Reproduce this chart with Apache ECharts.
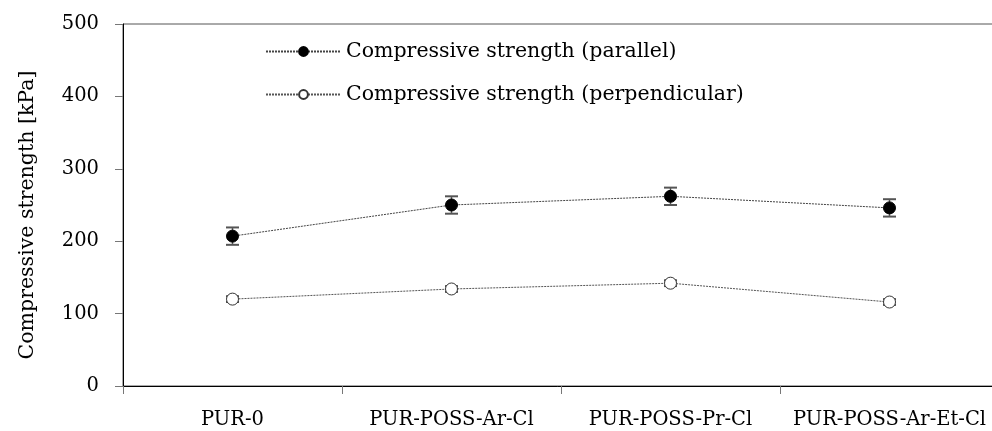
<!DOCTYPE html>
<html>
<head>
<meta charset="utf-8">
<script src="https://cdn.jsdelivr.net/npm/echarts@6/dist/echarts.min.js"></script>
<style>html,body{margin:0;padding:0;background:#fff}#c{width:992px;height:431px}</style>
</head>
<body>
<div id="c"></div>
<script>
const categories = ['PUR-0', 'PUR-POSS-Ar-Cl', 'PUR-POSS-Pr-Cl', 'PUR-POSS-Ar-Et-Cl'];
const parallel = [207, 250, 262, 246];
const parallelErr = [12, 12, 12, 12];
const perpendicular = [120, 134, 142, 116];
const perpendicularErr = [4, 4, 4, 4];
const yTicks = [0, 100, 200, 300, 400, 500];
const nameParallel = 'Compressive strength (parallel)';
const namePerp = 'Compressive strength (perpendicular)';
const yName = 'Compressive strength [kPa]';

const FONT = 'DejaVu Serif';

function errData(vals, errs) {
  return vals.map((v, i) => [i, v - errs[i], v + errs[i]]);
}
function renderErr(params, api) {
  const x = api.value(0);
  const lo = api.coord([x, api.value(1)]);
  const hi = api.coord([x, api.value(2)]);
  const w = 6.5;
  const st = { stroke: '#555', lineWidth: 2 };
  return {
    type: 'group',
    children: [
      { type: 'line', shape: { x1: hi[0], y1: hi[1], x2: lo[0], y2: lo[1] }, style: { stroke: '#555', lineWidth: 1.5 } },
      { type: 'line', shape: { x1: hi[0] - w, y1: hi[1], x2: hi[0] + w, y2: hi[1] }, style: st },
      { type: 'line', shape: { x1: lo[0] - w, y1: lo[1], x2: lo[0] + w, y2: lo[1] }, style: st }
    ]
  };
}

const chart = echarts.init(document.getElementById('c'), null, { renderer: 'canvas' });
chart.setOption({
  animation: false,
  backgroundColor: '#fff',
  textStyle: { fontFamily: FONT },
  grid: {
    left: 123, top: 24, width: 876, height: 362,
    outerBoundsMode: 'none',
    containLabel: false,
    show: true, borderColor: '#555', borderWidth: 1, backgroundColor: 'transparent'
  },
  legend: {
    data: [nameParallel, namePerp],
    orient: 'vertical',
    left: 260, top: 36,
    itemWidth: 75, itemHeight: 11,
    itemGap: 22,
    textStyle: { fontFamily: FONT, fontSize: 20.5, color: '#000' }
  },
  xAxis: {
    type: 'category',
    data: categories,
    boundaryGap: true,
    axisLine: { lineStyle: { color: '#000', width: 1 } },
    axisTick: { show: true, length: 8, interval: 0, lineStyle: { color: '#777' } },
    axisLabel: { fontFamily: FONT, fontSize: 19.5, color: '#000', margin: 24, interval: 0 },
    splitLine: { show: false }
  },
  yAxis: {
    type: 'value',
    min: yTicks[0], max: yTicks[yTicks.length - 1], interval: 100,
    name: yName,
    nameLocation: 'middle',
    nameGap: 85,
    nameTextStyle: { fontFamily: FONT, fontSize: 20.5, color: '#000', padding: [0, 20, 0, 0] },
    axisLine: { show: true, lineStyle: { color: '#000', width: 1 } },
    axisTick: { show: true, length: 8, lineStyle: { color: '#777' } },
    axisLabel: { fontFamily: FONT, fontSize: 19.5, color: '#000', margin: 24 },
    splitLine: { show: false }
  },
  series: [
    {
      type: 'custom', name: 'errParallel', z: 1,
      renderItem: renderErr,
      encode: { x: 0, y: [1, 2] },
      data: errData(parallel, parallelErr)
    },
    {
      type: 'custom', name: 'errPerp', z: 1,
      renderItem: renderErr,
      encode: { x: 0, y: [1, 2] },
      data: errData(perpendicular, perpendicularErr)
    },
    {
      type: 'line', name: nameParallel, z: 3,
      data: parallel,
      symbol: 'circle', symbolSize: 12,
      itemStyle: { color: '#000', borderColor: '#000', borderWidth: 1 },
      lineStyle: { color: '#444', width: 1, type: [2, 1] }
    },
    {
      type: 'line', name: namePerp, z: 3,
      data: perpendicular,
      symbol: 'circle', symbolSize: 12,
      itemStyle: { color: '#fff', borderColor: '#333', borderWidth: 1 },
      lineStyle: { color: '#555', width: 1, type: [2, 1] }
    }
  ]
});
</script>
</body>
</html>
